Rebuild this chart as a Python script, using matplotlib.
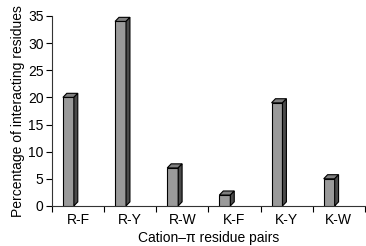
import numpy as np
import matplotlib.pyplot as plt
from matplotlib.patches import Polygon

plt.rcParams['font.family'] = ['Liberation Sans', 'DejaVu Sans']

pairs = ["R-F", "R-Y", "R-W", "K-F", "K-Y", "K-W"]
percent = [20, 34, 7, 2, 19, 5]
yticks = [0, 5, 10, 15, 20, 25, 30, 35]

fig = plt.figure(figsize=(3.66, 2.46), dpi=100)
ax = fig.add_axes([0.142, 0.163, 0.855, 0.772])

x = np.arange(len(pairs))
left = x + 0.21   # front face starts a bit inside each category
width = 0.21
dx = 0.075        # depth offset in x (data units)
dy = 0.75         # depth offset in y

ax.bar(left, percent, width=width, align='edge', color='#9a9a9a',
       edgecolor='black', linewidth=0.8, zorder=3)

for l, v in zip(left, percent):
    # top face
    top = Polygon([(l, v), (l + dx, v + dy), (l + width + dx, v + dy), (l + width, v)],
                  closed=True, facecolor='#7f7f7f', edgecolor='black', linewidth=0.8, zorder=3)
    # side face
    side = Polygon([(l + width, 0), (l + width + dx, dy), (l + width + dx, v + dy), (l + width, v)],
                   closed=True, facecolor='#4a4a4a', edgecolor='black', linewidth=0.8, zorder=3)
    ax.add_patch(top)
    ax.add_patch(side)

ax.set_xlim(0, len(pairs))
ax.set_ylim(0, 35)
ax.set_yticks(yticks)
ax.set_xticks(np.arange(len(pairs) + 1))
ax.set_xticklabels([])
ax.set_xticks(x + 0.5, minor=True)
ax.set_xticklabels(pairs, minor=True)
ax.tick_params(axis='x', which='minor', length=0, pad=5)
ax.tick_params(axis='x', which='major', length=4, width=0.8, direction='out')
ax.tick_params(axis='y', length=4, width=0.8, direction='out', pad=2)
ax.tick_params(labelsize=10, which='both')

for s in ['top', 'right']:
    ax.spines[s].set_visible(False)
for s in ['left', 'bottom']:
    ax.spines[s].set_linewidth(0.8)
    ax.spines[s].set_color('#333333')

ax.set_ylabel("Percentage of interacting residues", fontsize=10, labelpad=2)
ax.set_xlabel("Cation\u2013\u03c0 residue pairs", fontsize=10, labelpad=3)

fig.savefig("out.png", dpi=100)
